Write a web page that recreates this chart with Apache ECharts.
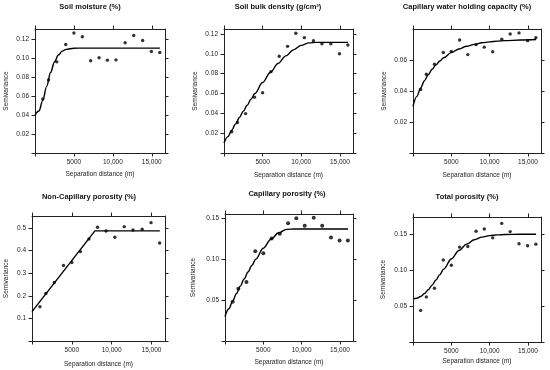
<!DOCTYPE html>
<html><head><meta charset="utf-8">
<script src="https://cdn.jsdelivr.net/npm/echarts@6/dist/echarts.min.js"></script>
<style>html,body{margin:0;padding:0;background:#fff}#c{width:550px;height:370px}</style>
</head><body><div id="c"></div>
<script>
// ---------- data ----------
const distances = [1000, 1740, 2800, 3950, 5000, 6080, 7150, 8230, 9300, 10400, 11580, 12680, 13830, 14950, 16030];

const soilMoisture  = [0.0571, 0.0772, 0.0963, 0.1147, 0.1267, 0.1228, 0.0974, 0.1006, 0.0981, 0.0984, 0.1165, 0.1242, 0.1189, 0.1073, 0.1062];
const bulkDensity   = [0.0214, 0.0308, 0.0397, 0.0563, 0.0607, 0.0820, 0.0976, 0.1075, 0.1207, 0.1163, 0.1132, 0.1102, 0.1102, 0.1000, 0.1088];
const capWater      = [0.0409, 0.0507, 0.0572, 0.0648, 0.0655, 0.0728, 0.0634, 0.0698, 0.0682, 0.0652, 0.0733, 0.0767, 0.0774, 0.0724, 0.0743];
const nonCapPor     = [0.1515, 0.2103, 0.2588, 0.3338, 0.3470, 0.3956, 0.4515, 0.5030, 0.4868, 0.4588, 0.5059, 0.4912, 0.4941, 0.5235, 0.4338];
const capPor        = [0.0480, 0.0639, 0.0721, 0.1098, 0.1074, 0.1254, 0.1311, 0.1439, 0.1500, 0.1410, 0.1508, 0.1410, 0.1266, 0.1230, 0.1230];
const totalPor      = [0.0440, 0.0628, 0.0748, 0.1142, 0.1069, 0.1321, 0.1330, 0.1541, 0.1573, 0.1450, 0.1651, 0.1537, 0.1367, 0.1339, 0.1362];

// fitted model curves
const curveDist        = [0, 500, 1000, 1500, 2000, 2500, 3000, 3500, 4000, 5000, 6000, 7000, 8000, 9000, 10000, 11000, 12000, 14000, 16050];
const soilMoistureFit  = [0.0400, 0.0443, 0.0556, 0.0704, 0.0850, 0.0962, 0.1035, 0.1076, 0.1095, 0.1107, 0.1108, 0.1108, 0.1108, 0.1108, 0.1108, 0.1108, 0.1108, 0.1108, 0.1108];
const bulkDensityFit   = [0.0100, 0.0165, 0.0230, 0.0294, 0.0358, 0.0421, 0.0482, 0.0543, 0.0600, 0.0711, 0.0812, 0.0902, 0.0979, 0.1040, 0.1085, 0.1110, 0.1115, 0.1115, 0.1115];
const capWaterFit      = [0.0300, 0.0365, 0.0419, 0.0466, 0.0506, 0.0540, 0.0568, 0.0593, 0.0614, 0.0647, 0.0670, 0.0688, 0.0700, 0.0710, 0.0716, 0.0721, 0.0724, 0.0728, 0.0731];
const capPorFit        = [0.0300, 0.0394, 0.0488, 0.0580, 0.0671, 0.0758, 0.0843, 0.0923, 0.1000, 0.1135, 0.1245, 0.1323, 0.1365, 0.1370, 0.1370, 0.1370, 0.1370, 0.1370, 0.1370];
const totalPorFit      = [0.0600, 0.0609, 0.0634, 0.0675, 0.0728, 0.0792, 0.0863, 0.0938, 0.1014, 0.1156, 0.1274, 0.1363, 0.1423, 0.1460, 0.1481, 0.1491, 0.1496, 0.1500, 0.1500];
const nonCapFitDist    = [0, 7900, 16050];
const nonCapPorFit     = [0.130, 0.487, 0.487];

// axis ticks
const xMax = 16700;
const xTickValues = [5000, 10000, 15000];
const xTickLabels = ['5000', '10,000', '15,000'];
const yTicksA = [0.02, 0.04, 0.06, 0.08, 0.10, 0.12];
const yLabelsA = ['0.02', '0.04', '0.06', '0.08', '0.10', '0.12'];
const yTicksB = [0.02, 0.04, 0.06];
const yLabelsB = ['0.02', '0.04', '0.06'];
const yTicksC = [0.1, 0.2, 0.3, 0.4, 0.5];
const yLabelsC = ['0.1', '0.2', '0.3', '0.4', '0.5'];
const yTicksD = [0.05, 0.10, 0.15];
const yLabelsD = ['0.05', '0.10', '0.15'];

const titles = ['Soil moisture (%)', 'Soil bulk density (g/cm\u00B3)', 'Capillary water holding capacity (%)',
                'Non-Capillary porosity (%)', 'Capillary porosity (%)', 'Total porosity (%)'];
const yMaxes = [0.131, 0.125, 0.0799, 0.553, 0.1553, 0.174];

// ---------- layout (pixels) ----------
const layout = [
  {left: 35,  top: 29,  width: 130, height: 124, tx: 90,  ty: 7,   yGap: 25, xGap: 18},
  {left: 224, top: 29,  width: 129, height: 124, tx: 278, ty: 7,   yGap: 25, xGap: 19},
  {left: 413, top: 29,  width: 128, height: 124, tx: 467, ty: 7,   yGap: 25, xGap: 19},
  {left: 32,  top: 216, width: 133, height: 125, tx: 89,  ty: 197, yGap: 22, xGap: 20},
  {left: 225, top: 214, width: 128, height: 127, tx: 287, ty: 194, yGap: 28, xGap: 18},
  {left: 413, top: 217, width: 128, height: 125, tx: 467, ty: 197, yGap: 26, xGap: 16}
];

const panels = [
  {pts: soilMoisture, cx: curveDist, cy: soilMoistureFit, yt: yTicksA, yl: yLabelsA, smooth: true, sym: 3.4},
  {pts: bulkDensity,  cx: curveDist, cy: bulkDensityFit,  yt: yTicksA, yl: yLabelsA, smooth: true, sym: 3.4},
  {pts: capWater,     cx: curveDist, cy: capWaterFit,     yt: yTicksB, yl: yLabelsB, smooth: true, sym: 3.4},
  {pts: nonCapPor,    cx: nonCapFitDist, cy: nonCapPorFit, yt: yTicksC, yl: yLabelsC, smooth: false, sym: 3.4},
  {pts: capPor,       cx: curveDist, cy: capPorFit,       yt: yTicksD, yl: yLabelsD, smooth: true, sym: 4},
  {pts: totalPor,     cx: curveDist, cy: totalPorFit,     yt: yTicksD, yl: yLabelsD, smooth: true, sym: 3.4}
];

const fontFamily = 'Liberation Sans, Arial, Helvetica, sans-serif';
const axisColor = '#222';
const textColor = '#222';
const fs = 6.5;

function lookup(vals, labels, v) {
  for (let k = 0; k < vals.length; k++) if (Math.abs(vals[k] - v) < 1e-9) return labels[k];
  return '';
}

const grids = [], xAxes = [], yAxes = [], series = [], graphics = [];
panels.forEach((p, i) => {
  const L = layout[i];
  grids.push({left: L.left, top: L.top, width: L.width, height: L.height});
  const line = {show: true, onZero: false, lineStyle: {color: axisColor, width: 1}};
  const xTick = {show: true, length: 3.5, customValues: [0].concat(xTickValues), lineStyle: {color: axisColor, width: 1}};
  const yTick = {show: true, length: 3.5, customValues: [0].concat(p.yt), lineStyle: {color: axisColor, width: 1}};
  xAxes.push({
    type: 'value', gridIndex: i, position: 'bottom', min: 0, max: xMax,
    axisLine: line, axisTick: xTick, splitLine: {show: false},
    axisLabel: {customValues: xTickValues, formatter: v => lookup(xTickValues, xTickLabels, v),
      fontSize: fs, margin: 6, color: textColor, fontFamily},
    name: 'Separation distance (m)', nameLocation: 'middle', nameGap: L.xGap,
    nameTextStyle: {fontSize: fs, color: textColor, fontFamily}
  });
  xAxes.push({
    type: 'value', gridIndex: i, position: 'top', min: 0, max: xMax,
    axisLine: line, axisTick: xTick, splitLine: {show: false}, axisLabel: {show: false}
  });
  yAxes.push({
    type: 'value', gridIndex: i, position: 'left', min: 0, max: yMaxes[i],
    axisLine: line, axisTick: yTick, splitLine: {show: false},
    axisLabel: {customValues: p.yt, formatter: v => lookup(p.yt, p.yl, v),
      fontSize: fs, margin: 6, color: textColor, fontFamily},
    name: 'Semivariance', nameLocation: 'middle', nameGap: L.yGap,
    nameTextStyle: {fontSize: fs, color: textColor, fontFamily}
  });
  yAxes.push({
    type: 'value', gridIndex: i, position: 'right', min: 0, max: yMaxes[i],
    axisLine: line, axisTick: yTick, splitLine: {show: false}, axisLabel: {show: false}
  });
  series.push({
    type: 'scatter', xAxisIndex: 2 * i, yAxisIndex: 2 * i,
    data: distances.map((d, j) => [d, p.pts[j]]),
    symbol: 'circle', symbolSize: p.sym, itemStyle: {color: '#000'}, z: 3
  });
  series.push({
    type: 'line', xAxisIndex: 2 * i, yAxisIndex: 2 * i,
    data: p.cx.map((d, j) => [d, p.cy[j]]),
    showSymbol: false, smooth: p.smooth ? 0.35 : false, smoothMonotone: 'x',
    lineStyle: {color: '#000', width: 1.4}, z: 2
  });
  graphics.push({
    type: 'text', x: L.tx, y: L.ty,
    style: {text: titles[i], fontSize: 7.5, fontWeight: 'bold', fontFamily, fill: '#111',
      align: 'center', verticalAlign: 'middle'}
  });
});

const chart = echarts.init(document.getElementById('c'), null, {renderer: 'canvas'});
chart.setOption({
  animation: false,
  backgroundColor: '#fff',
  grid: grids, xAxis: xAxes, yAxis: yAxes, series: series,
  graphic: graphics
});
</script>
</body></html>
